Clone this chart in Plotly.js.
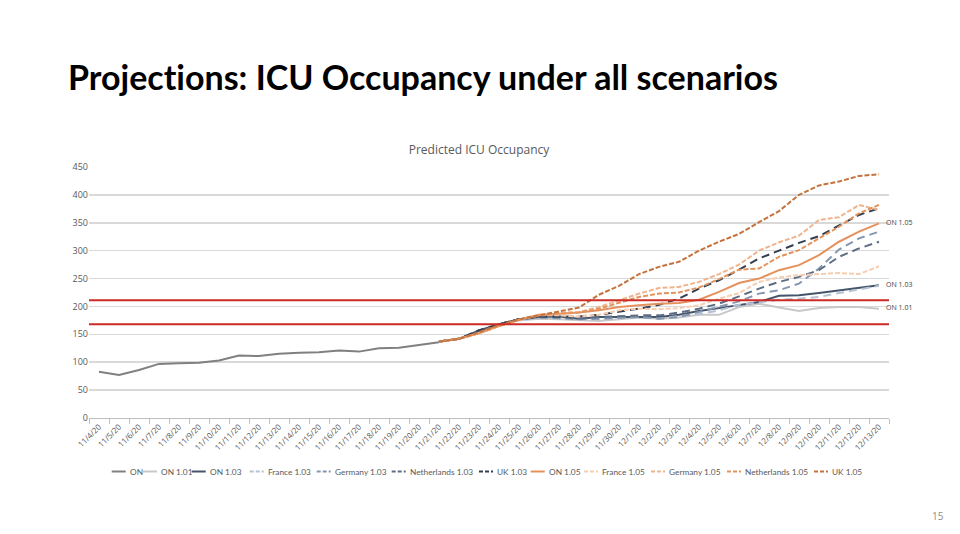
<!DOCTYPE html>
<html>
<head>
<meta charset="utf-8">
<script src="https://cdn.plot.ly/plotly-3.0.1.min.js"></script>
<style>
  html, body { margin: 0; padding: 0; background: #ffffff; }
  #chart { width: 960px; height: 534px; }
  text { font-variant-ligatures: none; font-feature-settings: "liga" 0, "clig" 0; }
</style>
</head>
<body>
<div id="chart"></div>
<script>
// ---------- data ----------
const dates = ['11/4/20','11/5/20','11/6/20','11/7/20','11/8/20','11/9/20','11/10/20','11/11/20','11/12/20','11/13/20',
  '11/14/20','11/15/20','11/16/20','11/17/20','11/18/20','11/19/20','11/20/20','11/21/20','11/22/20','11/23/20',
  '11/24/20','11/25/20','11/26/20','11/27/20','11/28/20','11/29/20','11/30/20','12/1/20','12/2/20','12/3/20',
  '12/4/20','12/5/20','12/6/20','12/7/20','12/8/20','12/9/20','12/10/20','12/11/20','12/12/20','12/13/20'];

// observed Ontario ICU occupancy, 11/4 .. 11/21
const onActual = [83,77,86,97,98,99,103,112,111,115,117,118,121,119,125,126,131,136];

// projections, 11/21 .. 12/13
const on101 = [137,142,155,166,175,178,177,175,174,177,180,178,180,185,185,199,205,198,192,197,199,199,196];
const on103 = [137,142,157,168,177,181,182,178,181,181,182,181,185,192,197,203,208,219,220,224,229,234,238];
const fr103 = [137,142,157,168,177,180,179,176,177,179,181,178,183,186,193,203,208,212,214,217,224,231,237];
const de103 = [137,142,157,168,177,180,179,177,178,180,181,178,181,190,199,209,223,229,241,268,302,322,334];
const nl103 = [137,142,157,168,177,181,181,178,181,183,184,184,189,196,205,218,232,244,253,265,289,304,316];
const uk103 = [137,142,157,168,177,182,182,182,185,190,196,203,214,232,247,266,286,300,314,326,345,364,376];
const on105 = [137,142,152,165,176,185,187,189,193,199,202,205,206,212,226,242,250,265,274,292,316,334,349];
const fr105 = [137,142,152,165,176,184,184,182,185,193,196,195,197,202,214,224,244,252,256,258,260,258,272];
const de105 = [137,142,152,165,176,185,189,190,199,211,223,233,235,244,258,275,300,315,327,355,360,382,373];
const nl105 = [137,142,152,165,176,184,187,189,196,207,217,223,225,234,249,266,268,289,301,322,343,367,382];
const uk105 = [137,142,154,167,177,184,190,198,221,237,258,271,280,300,316,330,351,371,400,417,424,434,437];

// ICU capacity thresholds (red lines)
const thresholds = [211, 168];

const seriesNames = ['ON','ON 1.01','ON 1.03','France 1.03','Germany 1.03','Netherlands 1.03','UK 1.03',
                     'ON 1.05','France 1.05','Germany 1.05','Netherlands 1.05','UK 1.05'];
const seriesValues = [onActual,on101,on103,fr103,de103,nl103,uk103,on105,fr105,de105,nl105,uk105];
const endLabelSeries = ['ON 1.01','ON 1.03','ON 1.05'];

// ---------- styles ----------
const DASH103 = '8px,5px';
const DASH105 = '5px,2px';
const styles = {
  'ON':               {color:'#808080', dash:'solid'},
  'ON 1.01':          {color:'#c8c8c8', dash:'solid'},
  'ON 1.03':          {color:'#44546a', dash:'solid'},
  'France 1.03':      {color:'#b4c1d3', dash:DASH103},
  'Germany 1.03':     {color:'#8497b0', dash:DASH103},
  'Netherlands 1.03': {color:'#5d6d84', dash:DASH103},
  'UK 1.03':          {color:'#333f50', dash:DASH103},
  'ON 1.05':          {color:'#e5915c', dash:'solid'},
  'France 1.05':      {color:'#f6cdb0', dash:DASH105},
  'Germany 1.05':     {color:'#efb48c', dash:DASH105},
  'Netherlands 1.05': {color:'#e2935e', dash:DASH105},
  'UK 1.05':          {color:'#c4733e', dash:DASH105}
};

const FONT = 'Lato, sans-serif';

// plot box in pixels
const PL = 89, PR = 889, PT = 167, PB = 418;
const px2x = px => (px - PL) / (PR - PL);
const px2y = py => (PB - py) / (PB - PT);

const onDates = dates.slice(0, onActual.length);
const projDates = dates.slice(dates.length - on101.length);

const traces = seriesNames.map((name, i) => ({
  type: 'scatter',
  mode: 'lines',
  name: name,
  x: i === 0 ? onDates : projDates,
  y: seriesValues[i],
  line: {color: styles[name].color, dash: styles[name].dash, width: 2},
  hoverinfo: 'x+y+name',
  showlegend: false
}));

const shapes = thresholds.map(v => ({
  type: 'line', xref: 'paper', yref: 'y', x0: 0, x1: 1, y0: v, y1: v,
  line: {color: '#cc2a24', width: 2}
}));

// custom one-row legend
const legendTextX = [127.7, 159, 207.7, 265.7, 332.7, 407.7, 495, 546.7, 600, 667, 743, 830];
const legendY = 471.5;
const annotations = [];
seriesNames.forEach((name, i) => {
  shapes.push({
    type: 'line', xref: 'paper', yref: 'paper',
    x0: px2x(legendTextX[i] - 16), x1: px2x(legendTextX[i] - 2),
    y0: px2y(legendY), y1: px2y(legendY),
    line: {color: styles[name].color, dash: styles[name].dash === 'solid' ? 'solid' : '4px,2px', width: 2}
  });
  annotations.push({
    xref: 'paper', yref: 'paper', x: px2x(legendTextX[i]), y: px2y(legendY),
    xanchor: 'left', yanchor: 'middle', showarrow: false, text: name,
    font: {family: FONT, size: 8.3, color: '#595959'}
  });
});

// end-of-line data labels
endLabelSeries.forEach(name => {
  const vals = seriesValues[seriesNames.indexOf(name)];
  annotations.push({
    xref: 'x', yref: 'y', x: projDates[projDates.length - 1], y: vals[vals.length - 1],
    xanchor: 'left', yanchor: 'middle', xshift: 5, yshift: 1, showarrow: false, text: name,
    font: {family: 'Open Sans, sans-serif', size: 7, color: '#404040'}
  });
});

// slide heading and page number
annotations.push({
  xref: 'paper', yref: 'paper', x: px2x(66), y: px2y(76),
  xanchor: 'left', yanchor: 'middle', showarrow: false,
  text: '<b>Projections: ICU Occupancy under all scenarios</b>',
  font: {family: FONT, size: 34, color: '#000000'}
});
annotations.push({
  xref: 'paper', yref: 'paper', x: px2x(946), y: px2y(516),
  xanchor: 'right', yanchor: 'middle', showarrow: false, text: '15',
  font: {family: 'Open Sans, sans-serif', size: 10, color: '#8c8c8c'}
});

const layout = {
  width: 960, height: 534,
  margin: {l: PL, r: 960 - PR, t: PT, b: 534 - PB, pad: 0},
  paper_bgcolor: '#ffffff', plot_bgcolor: '#ffffff',
  showlegend: false,
  title: {
    text: 'Predicted ICU Occupancy',
    xref: 'container', yref: 'container', x: 0.499, y: 1 - 150 / 534,
    xanchor: 'center', yanchor: 'middle',
    font: {family: 'Open Sans, sans-serif', size: 12, color: '#595959'}
  },
  xaxis: {
    type: 'category', categoryorder: 'array', categoryarray: dates,
    range: [-0.5, dates.length - 0.5],
    tickson: 'boundaries', ticks: 'outside', ticklen: 5, tickcolor: '#bfbfbf', tickwidth: 1,
    showline: true, linecolor: '#bfbfbf', linewidth: 1,
    showgrid: false, zeroline: false,
    tickangle: -45,
    tickfont: {family: 'Open Sans, sans-serif', size: 8, color: '#595959'}
  },
  yaxis: {
    range: [0, 450], dtick: 50, tick0: 0,
    showgrid: true, gridcolor: '#d9d9d9', gridwidth: 1.5,
    showline: false, zeroline: false, ticks: '',
    tickfont: {family: 'Open Sans, sans-serif', size: 9, color: '#595959'}
  },
  shapes: shapes,
  annotations: annotations
};

Plotly.newPlot('chart', traces, layout, {displayModeBar: false, staticPlot: true});
</script>
</body>
</html>
